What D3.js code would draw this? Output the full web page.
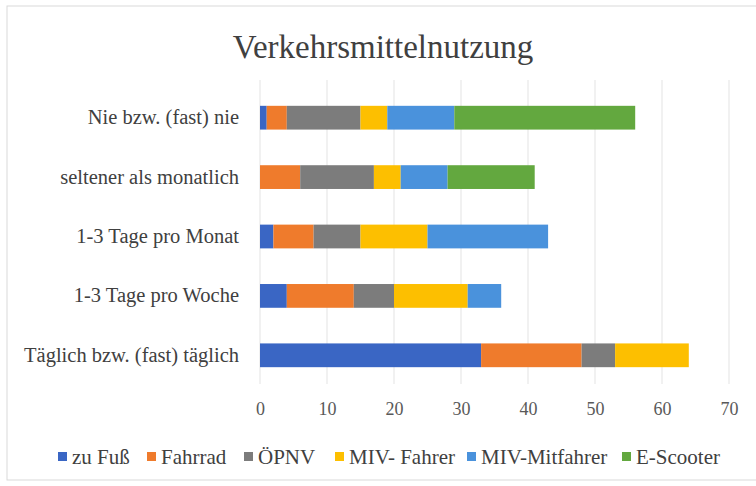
<!DOCTYPE html>
<html>
<head>
<meta charset="utf-8">
<script src="https://cdn.jsdelivr.net/npm/d3@7"></script>
<style>
  body { margin: 0; background: #fff; font-family: 'Liberation Serif', serif; }
</style>
</head>
<body>
<div id="chart"></div>
<script>
var width = 756,
  height = 486;
var FONT = "'Liberation Serif', 'Times New Roman', serif";

// Categories (top to bottom) and series
const categories = [
  "Nie bzw. (fast) nie",
  "seltener als monatlich",
  "1-3 Tage pro Monat",
  "1-3 Tage pro Woche",
  "Täglich bzw. (fast) täglich",
];
const series = ["zu Fuß", "Fahrrad", "ÖPNV", "MIV- Fahrer", "MIV-Mitfahrer", "E-Scooter"];
const colors = ["#3a66c4", "#ef7b2c", "#7c7c7c", "#fdbf00", "#4a92dc", "#63a83f"];

// values per series, in category order
const zuFuss = [1, 0, 2, 4, 33];
const fahrrad = [3, 6, 6, 10, 15];
const oepnv = [11, 11, 7, 6, 5];
const mivFahrer = [4, 4, 10, 11, 11];
const mivMitfahrer = [10, 7, 18, 5, 0];
const eScooter = [27, 13, 0, 0, 0];
const xTicks = [0, 10, 20, 30, 40, 50, 60, 70];

var values = [zuFuss, fahrrad, oepnv, mivFahrer, mivMitfahrer, eScooter];

// rows for d3.stack
var rows = categories.map(function (c, i) {
  var r = { cat: c };
  series.forEach(function (s, j) { r[s] = values[j][i]; });
  return r;
});
var stacked = d3.stack().keys(series)(rows);

var svg = d3.select("#chart").append("svg")
  .attr("width", width)
  .attr("height", height)
  .attr("font-family", FONT)
  .style("font-family", FONT);

// chart frame
svg.append("rect")
  .attr("x", 7).attr("y", 6)
  .attr("width", 770).attr("height", 474)
  .attr("fill", "#fff")
  .attr("stroke", "#d9d9d9");

var x = d3.scaleLinear().domain([0, 70]).range([260, 729]);
var y = d3.scaleBand().domain(categories).range([88, 385]).paddingInner(0.6).paddingOuter(0.3);

// gridlines
svg.append("g")
  .selectAll("line")
  .data(xTicks)
  .enter()
  .append("line")
  .attr("x1", function (d) { return x(d); })
  .attr("x2", function (d) { return x(d); })
  .attr("y1", 80)
  .attr("y2", 384)
  .attr("stroke", "#e3e3e3")
  .attr("stroke-width", 1);

// bars
svg.append("g")
  .selectAll("g")
  .data(stacked)
  .enter()
  .append("g")
  .attr("fill", function (d, i) { return colors[i]; })
  .selectAll("rect")
  .data(function (d) { return d; })
  .enter()
  .append("rect")
  .attr("x", function (d) { return x(d[0]); })
  .attr("y", function (d) { return y(d.data.cat); })
  .attr("width", function (d) { return x(d[1]) - x(d[0]); })
  .attr("height", y.bandwidth());

// x axis labels
var xAxis = svg.append("g")
  .attr("transform", "translate(0,399)")
  .call(d3.axisBottom(x).tickValues(xTicks).tickSize(0).tickFormat(d3.format("d")));
xAxis.attr("font-family", null);
xAxis.select(".domain").remove();
xAxis.selectAll("text")
  .style("font-family", FONT)
  .style("font-size", "18px")
  .attr("fill", "#595959");

// y axis labels
var yAxis = svg.append("g")
  .attr("transform", "translate(239,0)")
  .call(d3.axisLeft(y).tickSize(0).tickPadding(0));
yAxis.attr("font-family", null);
yAxis.select(".domain").remove();
yAxis.selectAll("text")
  .style("font-family", FONT)
  .style("font-size", "20.5px")
  .attr("fill", "#404040");

// title
svg.append("text")
  .attr("x", 383)
  .attr("y", 58)
  .attr("text-anchor", "middle")
  .style("font-family", FONT)
  .style("font-size", "33px")
  .attr("fill", "#404040")
  .text("Verkehrsmittelnutzung");

// legend
var legendX = [58, 147, 244, 335, 467, 622];
var legend = svg.append("g")
  .selectAll("g")
  .data(series)
  .enter()
  .append("g")
  .attr("transform", function (d, i) { return "translate(" + legendX[i] + ",457)"; });
legend.append("rect")
  .attr("x", 0).attr("y", -5)
  .attr("width", 9).attr("height", 9)
  .attr("fill", function (d, i) { return colors[i]; });
legend.append("text")
  .attr("x", 14)
  .attr("y", 0)
  .attr("dy", "0.35em")
  .style("font-family", FONT)
  .style("font-size", "21px")
  .attr("fill", "#404040")
  .text(function (d) { return d; });
</script>
</body>
</html>
